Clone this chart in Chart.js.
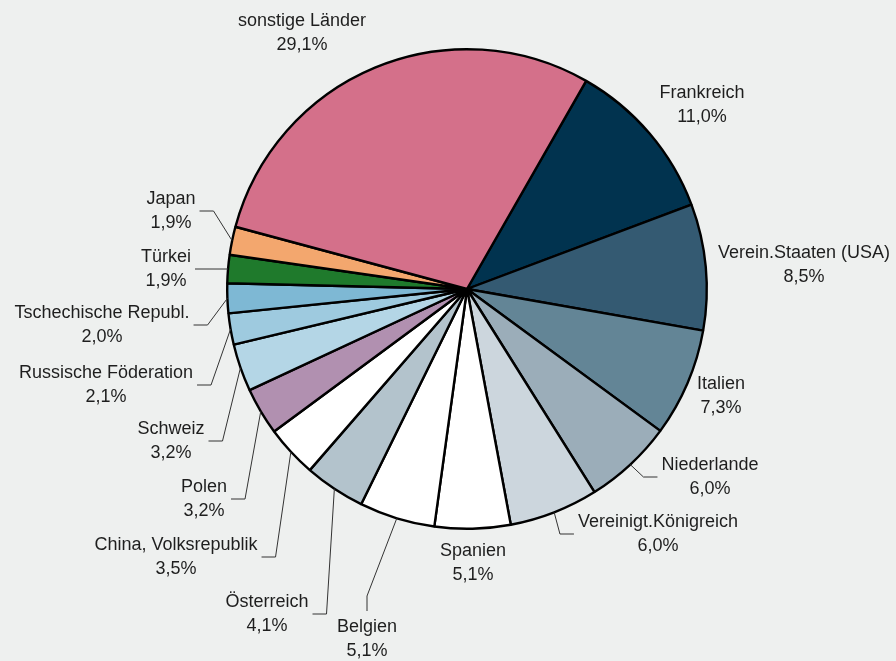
<!DOCTYPE html>
<html lang="de">
<head>
<meta charset="utf-8">
<title>Anteile nach Ländern</title>
<script src="https://cdn.jsdelivr.net/npm/chart.js@4.4.1/dist/chart.umd.min.js"></script>
<style>
    html, body {
        margin: 0;
        padding: 0;
        background: #eef0ef;
    }
    #chartBox {
        position: relative;
        width: 896px;
        height: 661px;
    }
</style>
</head>
<body>
<div id="chartBox">
    <canvas id="countryPieChart" width="896" height="661"></canvas>
</div>
<script>
// Countries, clockwise starting with Frankreich
const countries = [
    'Frankreich', 'Verein.Staaten (USA)', 'Italien', 'Niederlande',
    'Vereinigt.Königreich', 'Spanien', 'Belgien', 'Österreich',
    'China, Volksrepublik', 'Polen', 'Schweiz', 'Russische Föderation',
    'Tschechische Republ.', 'Türkei', 'Japan', 'sonstige Länder'
];

// Share in percent
const shares = [11.0, 8.5, 7.3, 6.0, 6.0, 5.1, 5.1, 4.1, 3.5, 3.2, 3.2, 2.1, 2.0, 1.9, 1.9, 29.1];

const sliceColors = [
    '#01334f', '#345a72', '#638596', '#9badb9',
    '#ccd6dd', '#ffffff', '#ffffff', '#b3c3cc',
    '#ffffff', '#b190b0', '#b4d6e6', '#9ecadf',
    '#7eb8d4', '#1f7a2c', '#f3a76e', '#d4708a'
];

// label placement relative to the pie centre: [dx, dy, leader type]
const labelLayout = [
    [235, -196, 'none'], [337, -36, 'none'], [254, 95, 'none'], [243, 176, 'right'],
    [191, 233, 'right'], [6, 262, 'none'], [-100, 338, 'below'], [-200, 313, 'left'],
    [-291, 256, 'left'], [-263, 198, 'left'], [-296, 140, 'left'], [-361, 84, 'left'],
    [-365, 24, 'left'], [-301, -32, 'left'], [-296, -90, 'left'], [-165, -268, 'none']
];

const labelFont = '18px "Liberation Sans", Arial, sans-serif';

function formatShare(v) {
    return v.toFixed(1).replace('.', ',') + '%';
}

// draws the outside labels and their leader lines
const outsideLabels = {
    id: 'outsideLabels',
    afterDatasetsDraw(chart) {
        const ctx = chart.ctx;
        const meta = chart.getDatasetMeta(0);
        ctx.save();
        ctx.font = labelFont;
        ctx.textAlign = 'center';
        ctx.textBaseline = 'middle';
        meta.data.forEach(function(arc, i) {
            const p = arc.getProps(['x', 'y', 'startAngle', 'endAngle', 'outerRadius'], true);
            const mid = (p.startAngle + p.endAngle) / 2;
            const ax = p.x + Math.cos(mid) * p.outerRadius;
            const ay = p.y + Math.sin(mid) * p.outerRadius;
            const lx = p.x + labelLayout[i][0];
            const ly = p.y + labelLayout[i][1];
            const type = labelLayout[i][2];
            const w = ctx.measureText(countries[i]).width;

            ctx.strokeStyle = '#333333';
            ctx.lineWidth = 1;
            if (type === 'left') {
                const x0 = lx + w / 2 + 4;
                ctx.beginPath();
                ctx.moveTo(x0, ly + 12);
                ctx.lineTo(x0 + 14, ly + 12);
                ctx.lineTo(ax, ay);
                ctx.stroke();
            } else if (type === 'right') {
                const x0 = lx - w / 2 - 4;
                ctx.beginPath();
                ctx.moveTo(x0, ly + 12);
                ctx.lineTo(x0 - 14, ly + 12);
                ctx.lineTo(ax, ay);
                ctx.stroke();
            } else if (type === 'below') {
                ctx.beginPath();
                ctx.moveTo(lx, ly - 16);
                ctx.lineTo(lx, ly - 31);
                ctx.lineTo(ax, ay);
                ctx.stroke();
            }

            ctx.fillStyle = '#1e1e1e';
            ctx.fillText(countries[i], lx, ly);
            ctx.fillText(formatShare(shares[i]), lx, ly + 24);
        });
        ctx.restore();
    }
};

document.addEventListener('DOMContentLoaded', function() {
    try {
        const ctx = document.getElementById('countryPieChart').getContext('2d');
        window.countryChart = new Chart(ctx, {
            type: 'pie',
            data: {
                labels: countries,
                datasets: [{
                    data: shares,
                    backgroundColor: sliceColors,
                    borderColor: '#000000',
                    borderWidth: 2.4
                }]
            },
            options: {
                responsive: false,
                animation: false,
                rotation: 29.8,
                layout: {
                    padding: { top: 48, bottom: 131, left: 226, right: 188 }
                },
                plugins: {
                    legend: { display: false },
                    tooltip: { enabled: false }
                }
            },
            plugins: [outsideLabels]
        });
        console.log('Pie chart ready');
    } catch (error) {
        console.error('Chart init failed:', error);
    }
});
</script>
</body>
</html>
